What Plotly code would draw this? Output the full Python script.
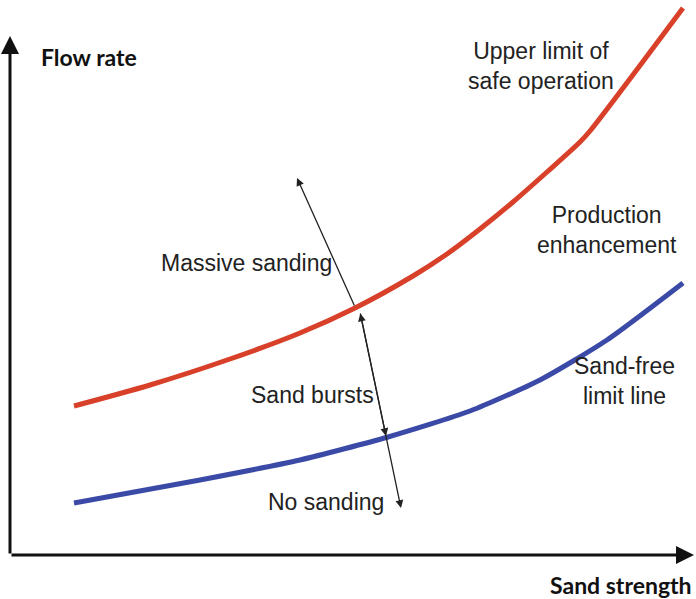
import plotly.graph_objects as go

# Conceptual chart coordinates (x: sand strength, y: flow rate)
red_x = [74, 150, 230, 300, 355, 413, 447, 480, 513, 547, 580, 590, 683]
red_y = [193, 214, 240, 266, 291, 323, 345, 370, 397, 427, 457, 468, 591]
blue_x = [74, 200, 300, 388, 470, 540, 607, 683]
blue_y = [96, 119, 139, 162, 188, 219, 259, 316]

axis_label_x = "Sand strength"
axis_label_y = "Flow rate"
region_labels = ["Massive sanding", "Sand bursts", "No sanding"]
curve_labels = ["Upper limit of<br>safe operation", "Production<br>enhancement",
                "Sand-free<br>limit line"]

fig = go.Figure()
fig.add_trace(go.Scatter(x=red_x, y=red_y, mode="lines",
                         line=dict(color="#d8402a", width=5, shape="spline", smoothing=0.8),
                         hoverinfo="skip"))
fig.add_trace(go.Scatter(x=blue_x, y=blue_y, mode="lines",
                         line=dict(color="#3b4aa7", width=5, shape="spline", smoothing=0.6),
                         hoverinfo="skip"))

ann = []
# axes with arrowheads
ann.append(dict(x=10, y=563, ax=10, ay=44, xref="x", yref="y", axref="x", ayref="y",
                text="", showarrow=True, arrowhead=2, arrowsize=1.2, arrowwidth=3,
                arrowcolor="#111"))
ann.append(dict(x=694, y=44, ax=10, ay=44, xref="x", yref="y", axref="x", ayref="y",
                text="", showarrow=True, arrowhead=2, arrowsize=1.2, arrowwidth=3,
                arrowcolor="#111"))
# arrows in the chart
ann.append(dict(x=297, y=421, ax=355, ay=292, xref="x", yref="y", axref="x", ayref="y",
                text="", showarrow=True, arrowhead=2, arrowsize=1.2, arrowwidth=1.3,
                arrowcolor="#222"))
ann.append(dict(x=401, y=91, ax=360, ay=287, xref="x", yref="y", axref="x", ayref="y",
                text="", showarrow=True, arrowhead=2, startarrowhead=2, arrowside="end+start",
                arrowsize=1.2, startarrowsize=1.2, arrowwidth=1.3, arrowcolor="#222"))
ann.append(dict(x=386, y=163, ax=360, ay=287, xref="x", yref="y", axref="x", ayref="y",
                text="", showarrow=True, arrowhead=2, arrowsize=1.2, arrowwidth=1.3,
                arrowcolor="#222"))

bold = dict(family="Lato, Open Sans, sans-serif", size=23, color="#111")
ann.append(dict(x=39, y=542, xref="x", yref="y", text="<b>" + axis_label_y + "</b>",
                showarrow=False, xanchor="left", yanchor="middle", font=bold))
ann.append(dict(x=694, y=14, xref="x", yref="y", text="<b>" + axis_label_x + "</b>",
                showarrow=False, xanchor="right", yanchor="middle", font=bold))

reg = dict(family="Liberation Sans, Arial, sans-serif", size=23, color="#222")
ann.append(dict(x=246, y=336, text=region_labels[0], showarrow=False, font=reg,
                xanchor="center", yanchor="middle"))
ann.append(dict(x=312, y=204, text=region_labels[1], showarrow=False, font=reg,
                xanchor="center", yanchor="middle"))
ann.append(dict(x=326, y=97, text=region_labels[2], showarrow=False, font=reg,
                xanchor="center", yanchor="middle"))
ann.append(dict(x=541, y=533, text=curve_labels[0], showarrow=False, font=reg,
                xanchor="center", yanchor="middle"))
ann.append(dict(x=607, y=369, text=curve_labels[1], showarrow=False, font=reg,
                xanchor="center", yanchor="middle"))
ann.append(dict(x=624, y=218, text=curve_labels[2], showarrow=False, font=reg,
                xanchor="center", yanchor="middle"))

fig.update_layout(
    width=696, height=599, margin=dict(l=0, r=0, t=0, b=0),
    paper_bgcolor="white", plot_bgcolor="white", showlegend=False,
    xaxis=dict(range=[0, 696], visible=False, fixedrange=True),
    yaxis=dict(range=[0, 599], visible=False, fixedrange=True),
    annotations=ann,
)
fig.write_html("out.html", config={"displayModeBar": False},
               post_script="document.body.style.margin='0';document.body.style.overflow='hidden';")
